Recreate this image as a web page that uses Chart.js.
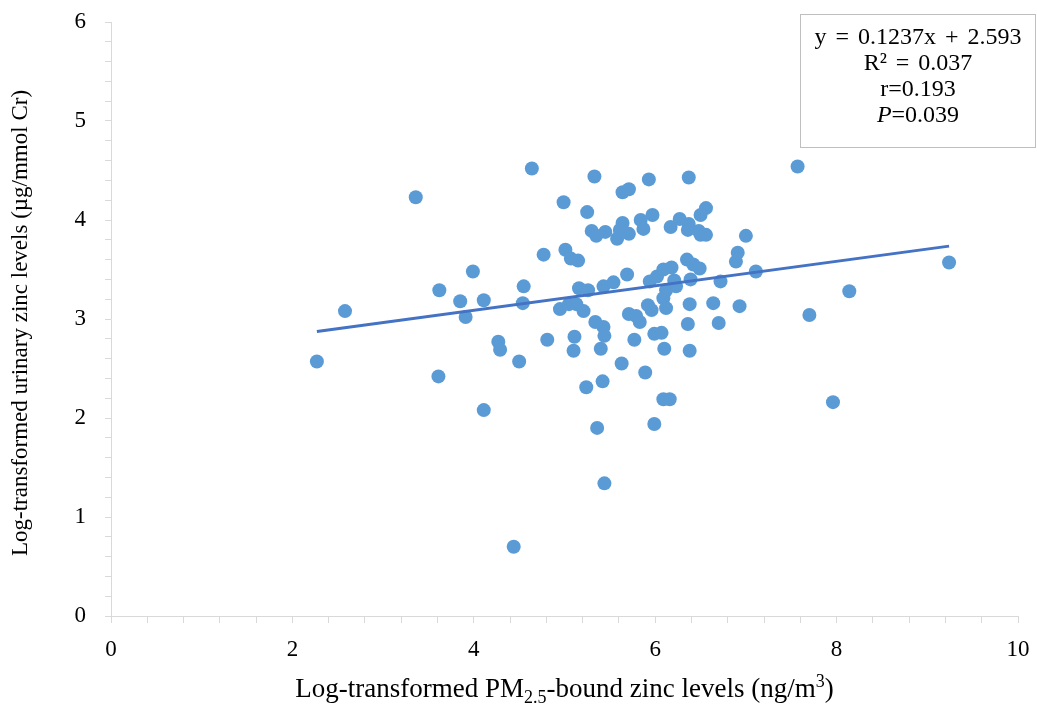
<!DOCTYPE html>
<html>
<head>
<meta charset="utf-8">
<script src="https://cdn.jsdelivr.net/npm/chart.js@4.4.1/dist/chart.umd.min.js"></script>
<style>
    html, body { margin: 0; padding: 0; background: #fff; }
    #wrap { width: 1037px; height: 704px; }
</style>
</head>
<body>
<div id="wrap"><canvas id="chartZinc" width="1037" height="704"></canvas></div>
<script>
/* ============================ Data  ============================ */
// log-transformed PM2.5-bound zinc (x) and urinary zinc (y)
const pmZinc = [
    2.27, 2.58, 3.36, 3.99, 3.62, 3.85, 4.11, 3.91, 4.55, 4.54,
    4.27, 4.29, 4.50, 3.61, 4.11, 4.44, 4.64, 5.33, 5.93, 6.37,
    5.64, 5.71, 4.99, 5.25, 5.97, 6.56, 6.50, 5.64, 5.84, 5.87,
    5.30, 5.35, 5.45, 5.58, 5.61, 5.71, 6.17, 6.27, 6.37, 6.36,
    6.48, 6.50, 6.56, 7.00, 4.77, 5.01, 5.07, 5.15, 5.69, 5.16,
    5.26, 5.43, 5.54, 4.95, 5.05, 5.13, 5.21, 5.94, 6.02, 6.09,
    6.18, 6.21, 6.23, 6.12, 6.35, 6.42, 6.49, 6.39, 6.91, 6.89,
    7.11, 6.72, 5.92, 5.96, 6.09, 6.12, 6.38, 6.64, 6.93, 5.34,
    5.43, 5.44, 5.71, 5.79, 5.83, 6.36, 6.70, 4.81, 5.11, 5.10,
    5.40, 5.63, 5.24, 5.42, 5.89, 5.77, 5.99, 6.07, 6.10, 6.38,
    6.09, 6.16, 5.36, 5.99, 5.44, 7.57, 9.24, 8.14, 7.70, 7.96,
];
const urineZinc = [
    2.57, 3.08, 4.23, 3.48, 3.29, 3.18, 3.19, 3.02, 3.33, 3.16,
    2.77, 2.69, 2.57, 2.42, 2.08, 0.70, 4.52, 4.44, 4.41, 4.43,
    4.28, 4.31, 4.18, 4.08, 4.05, 4.12, 4.05, 3.97, 4.00, 3.91,
    3.89, 3.84, 3.88, 3.81, 3.90, 3.86, 3.93, 4.01, 3.96, 3.90,
    3.89, 3.85, 3.85, 3.84, 3.65, 3.70, 3.61, 3.59, 3.45, 3.31,
    3.29, 3.33, 3.37, 3.10, 3.15, 3.15, 3.08, 3.38, 3.43, 3.50,
    3.52, 3.39, 3.33, 3.29, 3.60, 3.55, 3.51, 3.40, 3.67, 3.58,
    3.48, 3.38, 3.14, 3.09, 3.21, 3.11, 3.15, 3.16, 3.13, 2.97,
    2.92, 2.83, 3.05, 3.03, 2.97, 2.95, 2.96, 2.79, 2.82, 2.68,
    2.70, 2.55, 2.31, 2.37, 2.46, 2.79, 2.85, 2.86, 2.70, 2.68,
    2.19, 2.19, 1.90, 1.94, 1.34, 4.54, 3.57, 3.28, 3.04, 2.16,
];
const slope = 0.1237;
const intercept = 2.593;
const statLines = ["y = 0.1237x + 2.593", "R\u00B2 = 0.037", "r=0.193", "=0.039"];
const xTitle = ["Log-transformed PM", "2.5", "-bound zinc levels (ng/m", "3", ")"];
const yTitle = "Log-transformed urinary zinc levels (\u00B5g/mmol Cr)";

const points = pmZinc.map((x, i) => ({ x: x, y: urineZinc[i] }));
const xMin = Math.min(...pmZinc);
const xMax = Math.max(...pmZinc);
const trend = [
    { x: xMin, y: slope * xMin + intercept },
    { x: xMax, y: slope * xMax + intercept },
];

const FONT = "'Liberation Serif', 'Times New Roman', serif";
const axisGrey = "#d9d9d9";

/* ============================ Titles + stats box  ============================ */
const extras = {
    id: "extras",
    afterDraw(chart) {
        const ctx = chart.ctx;
        const area = chart.chartArea;
        ctx.save();
        ctx.fillStyle = "#000";

        // x title with sub / superscript
        const big = "27px " + FONT;
        const small = "18px " + FONT;
        const parts = [
            { t: xTitle[0], f: big, dy: 0 },
            { t: xTitle[1], f: small, dy: 6 },
            { t: xTitle[2], f: big, dy: 0 },
            { t: xTitle[3], f: small, dy: -10 },
            { t: xTitle[4], f: big, dy: 0 },
        ];
        let total = 0;
        parts.forEach((p) => {
            ctx.font = p.f;
            p.w = ctx.measureText(p.t).width;
            total += p.w;
        });
        let cx = (area.left + area.right) / 2 - total / 2;
        ctx.textBaseline = "alphabetic";
        ctx.textAlign = "left";
        parts.forEach((p) => {
            ctx.font = p.f;
            ctx.fillText(p.t, cx, 697 + p.dy);
            cx += p.w;
        });

        // y title
        ctx.save();
        ctx.translate(21, (area.top + area.bottom) / 2 + 4);
        ctx.rotate(-Math.PI / 2);
        ctx.font = "23px " + FONT;
        ctx.textAlign = "center";
        ctx.textBaseline = "middle";
        ctx.fillText(yTitle, 0, 0);
        ctx.restore();

        // stats box
        const boxFont = "24px " + FONT;
        ctx.fillStyle = "#fff";
        ctx.fillRect(800.5, 14.5, 235, 133);
        ctx.strokeStyle = "#bfbfbf";
        ctx.lineWidth = 1;
        ctx.strokeRect(800.5, 14.5, 235, 133);
        ctx.fillStyle = "#000";
        ctx.font = boxFont;
        ctx.textAlign = "center";
        ctx.textBaseline = "middle";
        const bx = 918;
        ctx.wordSpacing = "3px";
        ctx.fillText(statLines[0], bx, 38);
        ctx.fillText(statLines[1], bx, 64);
        ctx.wordSpacing = "0px";
        ctx.fillText(statLines[2], bx, 90);
        ctx.font = "italic " + boxFont;
        const pw = ctx.measureText("P").width;
        ctx.font = boxFont;
        const rw = ctx.measureText(statLines[3]).width;
        const sx = bx - (pw + rw) / 2;
        ctx.textAlign = "left";
        ctx.font = "italic " + boxFont;
        ctx.fillText("P", sx, 116);
        ctx.font = boxFont;
        ctx.fillText(statLines[3], sx + pw, 116);
        ctx.restore();
    },
};

/* ============================ Chart  ============================ */
const onlyEvery = (v, n) => Math.abs(v / n - Math.round(v / n)) < 1e-6;

const zincChart = new Chart(document.getElementById("chartZinc"), {
    type: "scatter",
    data: {
        datasets: [
            {
                type: "line",
                label: "Linear",
                data: trend,
                borderColor: "#4472c4",
                borderWidth: 3,
                pointRadius: 0,
                fill: false,
                order: 0,
            },
            {
                label: "Zinc",
                data: points,
                backgroundColor: "#5b9bd5",
                borderColor: "#5b9bd5",
                borderWidth: 0,
                pointRadius: 7,
                order: 1,
            },
        ],
    },
    options: {
        responsive: false,
        animation: false,
        layout: {
            padding: { left: 0, right: 19, top: 22, bottom: 0 },
        },
        plugins: {
            legend: { display: false },
            tooltip: { enabled: false },
        },
        scales: {
            x: {
                type: "linear",
                min: 0,
                max: 10,
                afterFit: (scale) => {
                    scale.height = 88;
                    scale.paddingLeft = 0;
                    scale.paddingRight = 0;
                },
                border: { display: true, color: axisGrey, width: 1 },
                grid: {
                    drawOnChartArea: false,
                    drawTicks: true,
                    tickLength: 7,
                    color: axisGrey,
                },
                ticks: {
                    stepSize: 0.4,
                    autoSkip: false,
                    maxRotation: 0,
                    padding: 13,
                    color: "#000",
                    font: { family: FONT, size: 23 },
                    callback: (v) => (onlyEvery(v, 2) ? String(Math.round(v)) : ""),
                },
            },
            y: {
                type: "linear",
                min: 0,
                max: 6,
                afterFit: (scale) => {
                    scale.width = 111;
                    scale.paddingTop = 0;
                    scale.paddingBottom = 0;
                },
                border: { display: true, color: axisGrey, width: 1 },
                grid: {
                    drawOnChartArea: false,
                    drawTicks: true,
                    tickLength: 6,
                    color: axisGrey,
                },
                ticks: {
                    stepSize: 0.2,
                    autoSkip: false,
                    padding: 19,
                    color: "#000",
                    font: { family: FONT, size: 23 },
                    callback: (v) => (onlyEvery(v, 1) ? String(Math.round(v)) : ""),
                },
            },
        },
    },
    plugins: [extras],
});
</script>
</body>
</html>
